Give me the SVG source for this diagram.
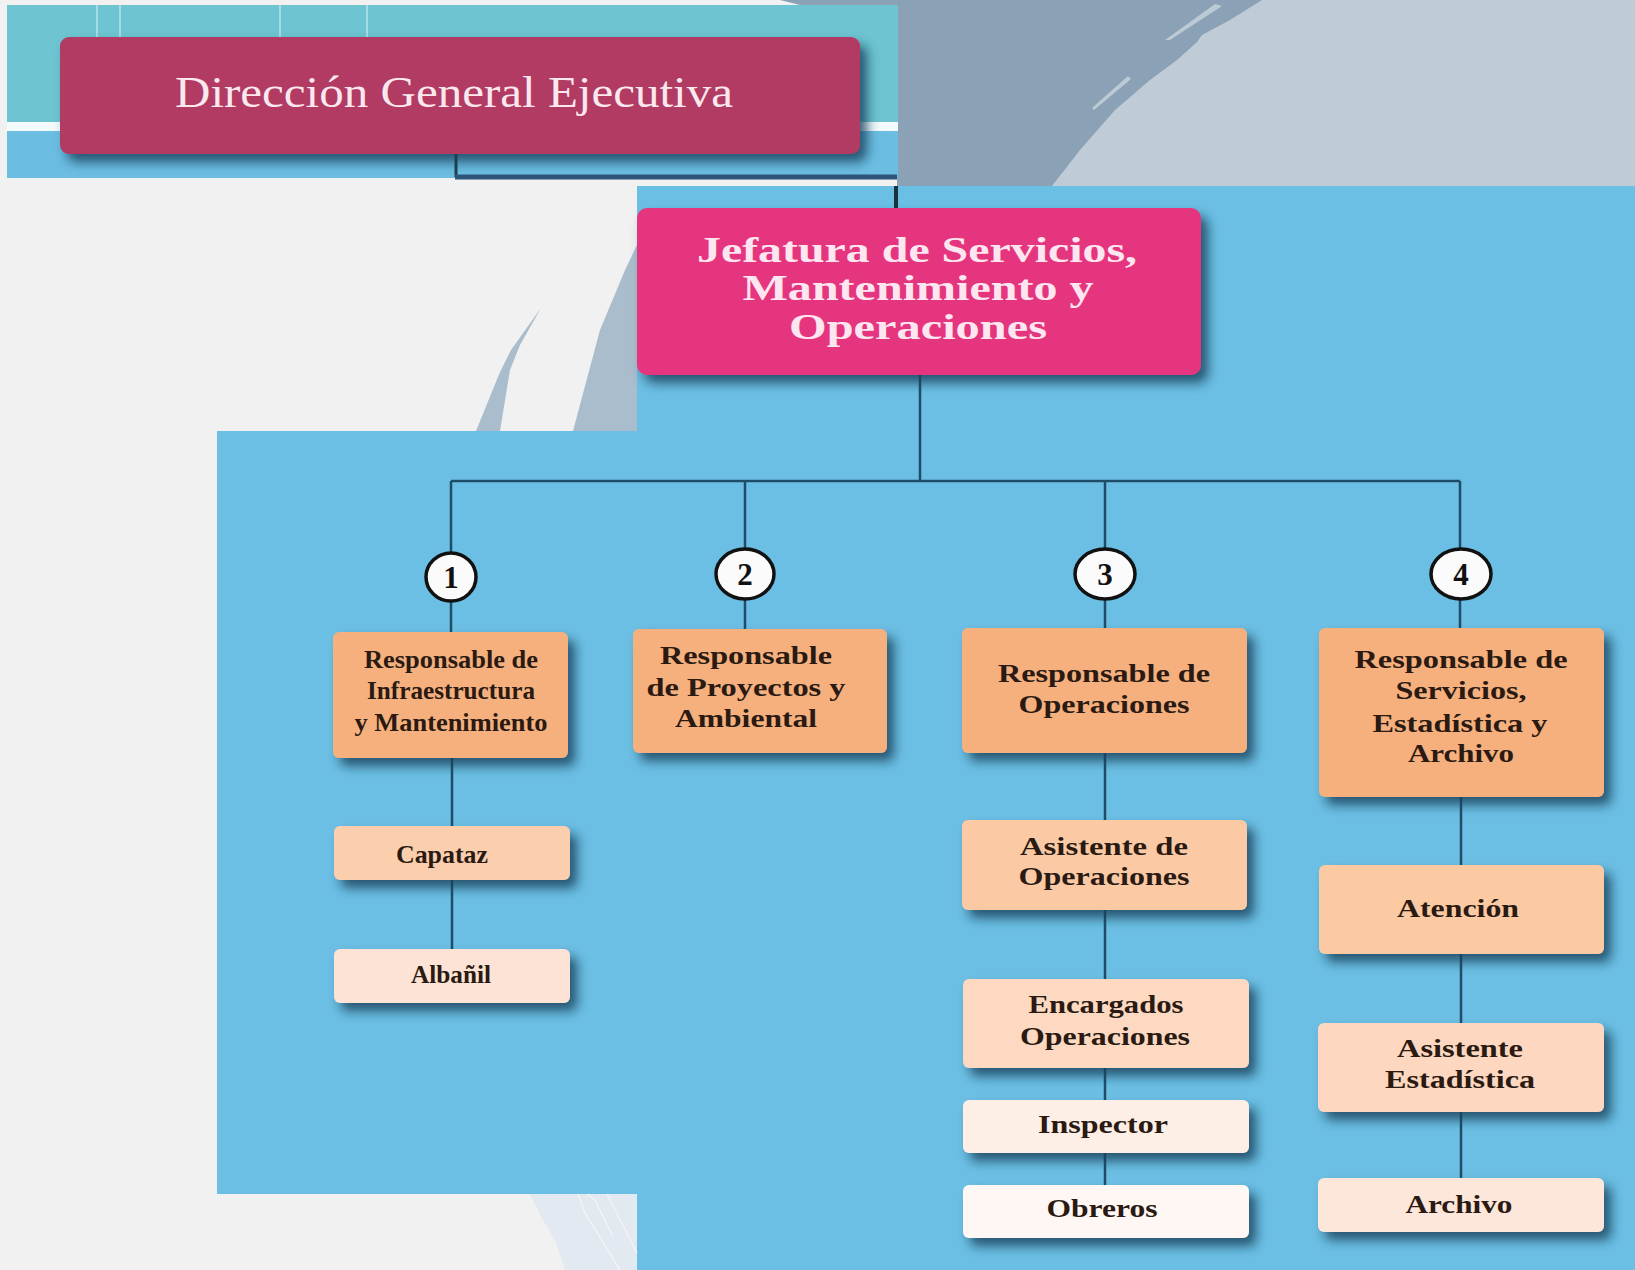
<svg xmlns="http://www.w3.org/2000/svg" width="1635" height="1270" viewBox="0 0 1635 1270">
<defs>
<style>
.ln{stroke:#1f4d68;stroke-width:2.5;fill:none}
.t{font-family:"Liberation Serif","Times New Roman",serif;font-weight:bold;fill:#2a1a12;font-size:25px;text-anchor:middle}
.num{font-family:"Liberation Serif","Times New Roman",serif;font-weight:bold;fill:#111;font-size:31px;text-anchor:middle}
.circ{fill:#fbfbfb;stroke:#111;stroke-width:3.5}
.bx{filter:url(#sh)}
</style>
<filter id="sh" x="-10%" y="-10%" width="130%" height="150%">
<feDropShadow dx="7" dy="8" stdDeviation="6" flood-color="#17425c" flood-opacity="0.85"/>
</filter>
</defs>
<g id="background">
<rect x="0" y="0" width="1635" height="1270" fill="#f1f1f1"/>
<polygon points="780,0 1635,0 1635,186 897,186 897,5 800,5" fill="#8ba2b6"/>
<polygon points="1262,0 1635,0 1635,186 1052,186 1080,150 1115,110 1150,80 1177,60 1197,42 1202,35 1230,20" fill="#bfcbd6"/>
<polygon points="1215,4 1222,6 1170,40 1165,40" fill="#bccad5"/>
<polygon points="1128,76 1131,79 1094,110 1092,108" fill="#bccad5"/>
<rect x="7" y="5" width="891" height="117" fill="#6ec4d1"/>
<rect x="7" y="122" width="891" height="9" fill="#f2fafc"/>
<rect x="7" y="131" width="891" height="47" fill="#6cbde2"/>
<g stroke="#e8f6f8" stroke-opacity="0.6" stroke-width="1.5">
<line x1="97" y1="5" x2="97" y2="122"/><line x1="120" y1="5" x2="120" y2="122"/>
<line x1="280" y1="5" x2="280" y2="122"/><line x1="367" y1="5" x2="367" y2="122"/>
</g>
<polygon points="637,245 637,431 573,431 600,330 625,270" fill="#aabdcc"/>
<polygon points="541,308 520,345 510,370 500,431 476,431 500,372 507,358 511,350" fill="#aabdcc"/>
<rect x="637" y="186" width="998" height="1084" fill="#6cbfe4"/>
<rect x="217" y="431" width="420" height="763" fill="#6cbfe4"/>
<polygon points="530,1194 637,1194 637,1270 565,1270 555,1240 540,1215" fill="#e2e9f0"/>
<g stroke="#f4f6f8" stroke-width="1.2" fill="none">
<polyline points="578,1194 585,1213 620,1270"/>
<polyline points="588,1194 595,1200 613,1237"/>
<polyline points="607,1194 637,1253"/>
</g>
</g>
<g id="connectors">
<path d="M456,154 V177" stroke="#1c3d50" stroke-width="3" fill="none"/>
<path d="M455,177 H897" stroke="#2c5578" stroke-width="5" fill="none"/>
<path d="M896,186 V208" stroke="#19323f" stroke-width="4" fill="none"/>
<path class="ln" d="M920,375 V481"/>
<path class="ln" d="M451,481 H1460"/>
<path class="ln" d="M451,481 V632"/>
<path class="ln" d="M745,481 V629"/>
<path class="ln" d="M1105,481 V628"/>
<path class="ln" d="M1460,481 V628"/>
<path class="ln" d="M452,758 V949"/>
<path class="ln" d="M1105,753 V1185"/>
<path class="ln" d="M1461,797 V1178"/>
</g>
<g id="n-direccion">
<rect class="bx" x="60" y="37" width="800" height="117" rx="9" fill="#b13a63"/>
<text x="454" y="107" font-family="Liberation Serif, Times New Roman, serif" font-size="44" fill="#fbe8ef" text-anchor="middle" textLength="558" lengthAdjust="spacingAndGlyphs">Dirección General Ejecutiva</text>
</g>
<g id="n-jefatura">
<rect class="bx" x="637" y="208" width="564" height="167" rx="10" fill="#e6367f"/>
<g font-family="Liberation Serif, Times New Roman, serif" font-weight="bold" font-size="35" fill="#fde6ef" text-anchor="middle">
<text x="917" y="262" textLength="440" lengthAdjust="spacingAndGlyphs">Jefatura de Servicios,</text>
<text x="918" y="300" textLength="351" lengthAdjust="spacingAndGlyphs">Mantenimiento y</text>
<text x="918" y="339" textLength="258" lengthAdjust="spacingAndGlyphs">Operaciones</text>
</g>
</g>
<g id="c1"><ellipse class="circ" cx="451" cy="577" rx="25" ry="24"/><text class="num" x="451" y="588">1</text></g>
<g id="c2"><ellipse class="circ" cx="745" cy="574" rx="29" ry="25"/><text class="num" x="745" y="585">2</text></g>
<g id="c3"><ellipse class="circ" cx="1105" cy="574" rx="30" ry="25"/><text class="num" x="1105" y="585">3</text></g>
<g id="c4"><ellipse class="circ" cx="1461" cy="574" rx="30" ry="25"/><text class="num" x="1461" y="585">4</text></g>
<g id="n-infra">
<rect class="bx" x="333" y="632" width="235" height="126" rx="6" fill="#f5b07e"/>
<text class="t" x="451" y="668" textLength="174" lengthAdjust="spacingAndGlyphs">Responsable de</text>
<text class="t" x="451" y="699" textLength="168" lengthAdjust="spacingAndGlyphs">Infraestructura</text>
<text class="t" x="451" y="731" textLength="193" lengthAdjust="spacingAndGlyphs">y Mantenimiento</text>
</g>
<g id="n-proyectos">
<rect class="bx" x="633" y="629" width="254" height="124" rx="6" fill="#f5b07e"/>
<text class="t" x="746" y="664" textLength="172" lengthAdjust="spacingAndGlyphs">Responsable</text>
<text class="t" x="746" y="696" textLength="199" lengthAdjust="spacingAndGlyphs">de Proyectos y</text>
<text class="t" x="746" y="727" textLength="142" lengthAdjust="spacingAndGlyphs">Ambiental</text>
</g>
<g id="n-operaciones">
<rect class="bx" x="962" y="628" width="285" height="125" rx="6" fill="#f5b07e"/>
<text class="t" x="1104" y="682" textLength="212" lengthAdjust="spacingAndGlyphs">Responsable de</text>
<text class="t" x="1104" y="713" textLength="171" lengthAdjust="spacingAndGlyphs">Operaciones</text>
</g>
<g id="n-servicios">
<rect class="bx" x="1319" y="628" width="285" height="169" rx="6" fill="#f5b07e"/>
<text class="t" x="1461" y="668" textLength="213" lengthAdjust="spacingAndGlyphs">Responsable de</text>
<text class="t" x="1461" y="699" textLength="131" lengthAdjust="spacingAndGlyphs">Servicios,</text>
<text class="t" x="1460" y="732" textLength="175" lengthAdjust="spacingAndGlyphs">Estadística y</text>
<text class="t" x="1461" y="762" textLength="106" lengthAdjust="spacingAndGlyphs">Archivo</text>
</g>
<g id="n-capataz">
<rect class="bx" x="334" y="826" width="236" height="54" rx="6" fill="#fbcfae"/>
<text class="t" x="442" y="863" textLength="92" lengthAdjust="spacingAndGlyphs">Capataz</text>
</g>
<g id="n-albanil">
<rect class="bx" x="334" y="949" width="236" height="54" rx="6" fill="#fde3d6"/>
<text class="t" x="451" y="983" textLength="80" lengthAdjust="spacingAndGlyphs">Albañil</text>
</g>
<g id="n-asistente-op">
<rect class="bx" x="962" y="820" width="285" height="90" rx="6" fill="#fbcaa5"/>
<text class="t" x="1104" y="855" textLength="168" lengthAdjust="spacingAndGlyphs">Asistente de</text>
<text class="t" x="1104" y="885" textLength="171" lengthAdjust="spacingAndGlyphs">Operaciones</text>
</g>
<g id="n-encargados">
<rect class="bx" x="963" y="979" width="286" height="89" rx="6" fill="#fdd9c1"/>
<text class="t" x="1106" y="1013" textLength="155" lengthAdjust="spacingAndGlyphs">Encargados</text>
<text class="t" x="1105" y="1045" textLength="170" lengthAdjust="spacingAndGlyphs">Operaciones</text>
</g>
<g id="n-inspector">
<rect class="bx" x="963" y="1100" width="286" height="53" rx="6" fill="#fdeee6"/>
<text class="t" x="1103" y="1133" textLength="130" lengthAdjust="spacingAndGlyphs">Inspector</text>
</g>
<g id="n-obreros">
<rect class="bx" x="963" y="1185" width="286" height="53" rx="6" fill="#fef7f3"/>
<text class="t" x="1102" y="1217" textLength="111" lengthAdjust="spacingAndGlyphs">Obreros</text>
</g>
<g id="n-atencion">
<rect class="bx" x="1319" y="865" width="285" height="89" rx="6" fill="#fbcaa3"/>
<text class="t" x="1458" y="917" textLength="122" lengthAdjust="spacingAndGlyphs">Atención</text>
</g>
<g id="n-asistente-est">
<rect class="bx" x="1318" y="1023" width="286" height="89" rx="6" fill="#fdd7bf"/>
<text class="t" x="1460" y="1057" textLength="126" lengthAdjust="spacingAndGlyphs">Asistente</text>
<text class="t" x="1460" y="1088" textLength="150" lengthAdjust="spacingAndGlyphs">Estadística</text>
</g>
<g id="n-archivo">
<rect class="bx" x="1318" y="1178" width="286" height="54" rx="6" fill="#fde6da"/>
<text class="t" x="1459" y="1213" textLength="107" lengthAdjust="spacingAndGlyphs">Archivo</text>
</g>
</svg>
